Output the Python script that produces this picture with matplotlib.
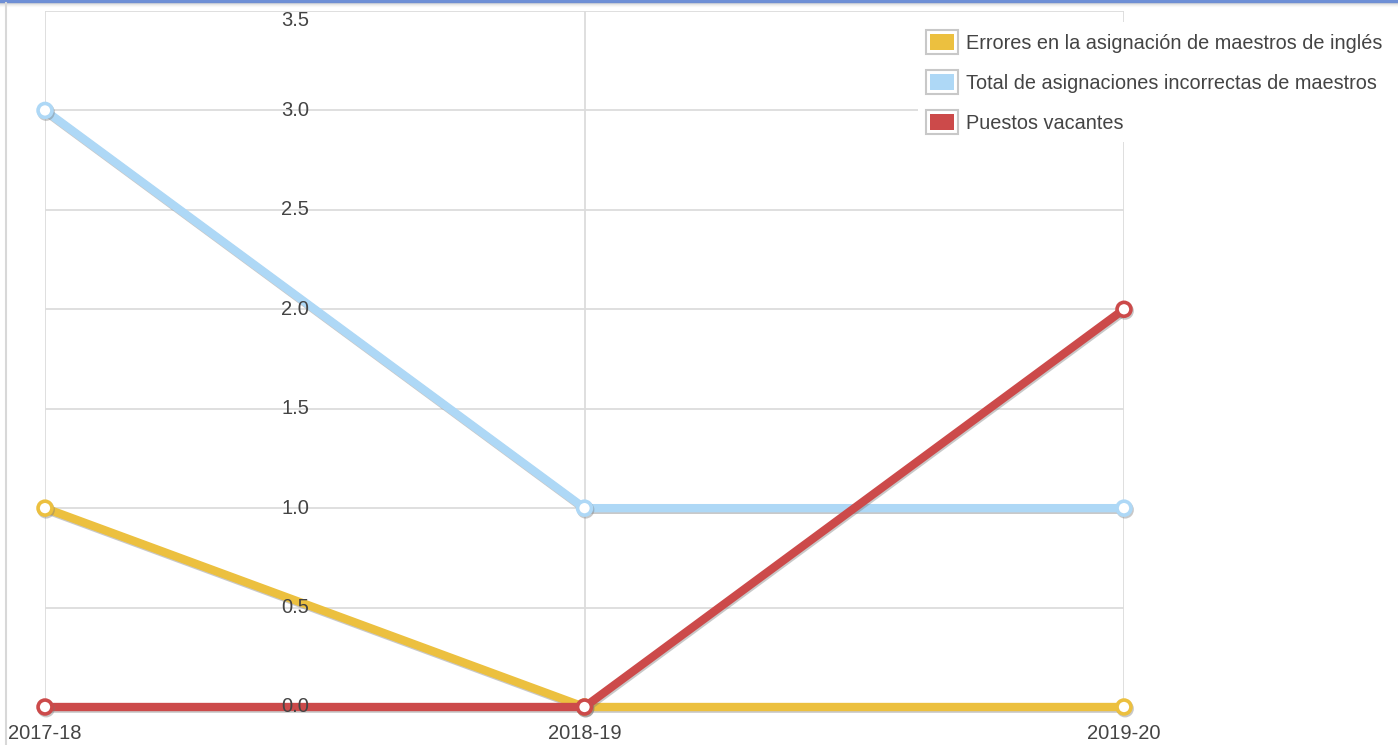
import matplotlib
matplotlib.use("Agg")
import matplotlib.pyplot as plt
import matplotlib.patheffects as pe
from matplotlib.lines import Line2D
from matplotlib.patches import Rectangle, Patch
from matplotlib.legend_handler import HandlerBase
import matplotlib.transforms as mtransforms

# Datos
cursos = ["2017-18", "2018-19", "2019-20"]
errores_ingles = [1, 0, 0]
total_incorrectas = [3, 1, 1]
puestos_vacantes = [0, 0, 2]
etiquetas = ["Errores en la asignación de maestros de inglés",
             "Total de asignaciones incorrectas de maestros",
             "Puestos vacantes"]
colores = ["#ECC03F", "#AED8F6", "#CC4A4A"]
yticks = [0.0, 0.5, 1.0, 1.5, 2.0, 2.5, 3.0, 3.5]

plt.rcParams["font.family"] = ["Liberation Sans", "DejaVu Sans"]
texto = "#444444"
fs = 14.5

W, H = 1398, 745
fig = plt.figure(figsize=(W / 100, H / 100), dpi=100)
ax = fig.add_axes([45 / W, 1 - 707 / H, (1124 - 45) / W, (707 - 11) / H])

x = list(range(len(cursos)))
series = [errores_ingles, total_incorrectas, puestos_vacantes]
sombra = [pe.SimpleLineShadow(offset=(0.8, -1.2), shadow_color="#777777", alpha=0.4),
          pe.Normal()]
for vals, col in zip(series, colores):
    ax.plot(x, vals, color=col, lw=6, solid_capstyle="butt",
            marker="o", markersize=10, markerfacecolor="white",
            markeredgecolor=col, markeredgewidth=2.6,
            path_effects=sombra, zorder=3, clip_on=False)

ax.set_xlim(0, 2)
ax.set_ylim(0, 3.5)
ax.set_yticks(yticks)
ax.set_xticks(x)
ax.set_yticklabels([])
ax.set_xticklabels([])
ax.tick_params(length=0)
ax.grid(True, color="#dcdcdc", lw=1.3, zorder=0)
for s in ax.spines.values():
    s.set_visible(False)

# Etiquetas del eje Y en medio del gráfico
trans = mtransforms.blended_transform_factory(fig.transFigure, ax.transData)
for v in yticks:
    t = ax.text(295 / W, v, f"{v:.1f}", transform=trans, ha="center", va="center",
                fontsize=fs, color=texto, zorder=4)
    if v == yticks[-1]:
        t.set_transform(trans + mtransforms.ScaledTranslation(0, -0.09, fig.dpi_scale_trans))
for xi, c in zip(x, cursos):
    ax.text(xi, -26 / 695 * 3.5, c, ha="center", va="center",
            fontsize=fs, color=texto)

# Leyenda con cuadros
class HandlerCuadro(HandlerBase):
    def create_artists(self, legend, orig_handle, xdescent, ydescent,
                       width, height, fontsize, trans):
        ext = Rectangle((-xdescent, -ydescent), width, height, facecolor="white",
                        edgecolor="#c8c8c8", lw=1.5, transform=trans)
        m = 3
        inn = Rectangle((-xdescent + m, -ydescent + m), width - 2 * m, height - 2 * m,
                        facecolor=orig_handle.get_facecolor(), edgecolor="none",
                        transform=trans)
        return [ext, inn]

handles = [Patch(facecolor=c) for c in colores]
leg = fig.legend(handles, etiquetas, loc="upper left",
                 bbox_to_anchor=(918 / W, 1 - 22 / H), frameon=True,
                 fontsize=14.3, handlelength=1.6, handleheight=1.5,
                 handletextpad=0.4, labelspacing=0.8, borderpad=0.4,
                 borderaxespad=0, handler_map={Patch: HandlerCuadro()})
leg.get_frame().set_edgecolor("none")
leg.get_frame().set_facecolor("white")
leg.get_frame().set_alpha(1)
for t in leg.get_texts():
    t.set_color(texto)

# Bordes de la página
fig.add_artist(Line2D([0, 1], [1 - 1 / H, 1 - 1 / H], transform=fig.transFigure,
                      color="#6E8FD6", lw=2.5))
for i, a in enumerate([0.25, 0.15, 0.08, 0.04]):
    yy = 1 - (3 + i) / H
    fig.add_artist(Line2D([0, 1], [yy, yy], transform=fig.transFigure,
                          color="#888888", lw=1, alpha=a))
fig.add_artist(Line2D([6 / W, 6 / W], [0, 1 - 3 / H], transform=fig.transFigure,
                      color="#d8d8d8", lw=1.5))

fig.savefig("out.png", dpi=100)
